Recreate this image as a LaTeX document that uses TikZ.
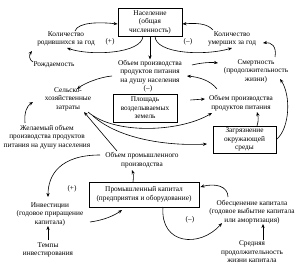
\documentclass[tikz,border=0pt]{standalone}
\usepackage{fontspec}
\setmainfont{Liberation Serif}
\usetikzlibrary{arrows.meta,calc}
\tikzset{
  lbl/.style={align=center,inner sep=0.5pt,font=\fontsize{7.3}{8.5}\selectfont},
  bx/.style={lbl,draw,line width=0.9pt},
  arr/.style={-{Stealth[length=4pt,width=3.2pt]},line width=0.6pt}
}
\begin{document}
\begin{tikzpicture}[x=1pt,y=-1pt]
\useasboundingbox[fill=white] (0,0) rectangle (300,267);
% nodes
\node[bx,minimum width=64pt,minimum height=28pt] (pop) at (150,22) {Население\\(общая\\численность)};
\node[lbl] (births) at (66,39) {Количество\\родившихся за год};
\node[lbl] (plus1) at (110,42) {(+)};
\node[lbl] (brate) at (54,65) {Рождаемость};
\node[lbl] (deaths) at (232,39) {Количество\\умерших за год};
\node[lbl] (minus1) at (188,42) {(–)};
\node[lbl] (mort) at (256,71) {Смертность\\(продолжительность\\жизни)};
\node[lbl] (foodpc) at (150,72) {Объем производства\\продуктов питания\\на душу населения};
\node[lbl] (minus2) at (148,89) {(–)};
\node[lbl] (agr) at (68,99) {Сельско-\\хозяйственные\\затраты};
\node[bx,minimum width=64pt,minimum height=28pt] (land) at (145,108) {Площадь\\возделываемых\\земель};
\node[lbl] (food) at (241,103) {Объем производства\\продуктов питания};
\node[bx,minimum width=63pt,minimum height=27pt] (poll) at (244.5,139.5) {Загрязнение\\окружающей\\среды};
\node[lbl] (desired) at (47,137) {Желаемый объем\\производства продуктов\\питания на душу населения};
\node[lbl] (indout) at (142,160) {Объем промышленного\\производства};
\node[bx,minimum width=110pt,minimum height=25pt] (cap) at (144,194.5) {Промышленный капитал\\(предприятия и оборудование)};
\node[lbl] (plus2) at (72,189) {(+)};
\node[lbl] (inv) at (50,214) {Инвестиции\\(годовое приращение\\капитала)};
\node[lbl] (rate) at (48,250) {Темпы\\инвестирования};
\node[lbl] (dep) at (252,212) {Обесценение капитала\\(годовое выбытие капитала\\или амортизация)};
\node[lbl] (minus3) at (190,220) {(–)};
\node[lbl] (life) at (252,252) {Средняя\\продолжительность\\жизни капитала};
% connectors
\draw[arr] ($(births)+(9,-8)$) .. controls (78,22) and (100,22) .. ($(pop.west)+(0,2)$);
\draw[arr] ($(pop)+(-7,14)$) .. controls (142,54) and (90,56) .. ($(births)+(1,9)$);
\draw[arr] ($(brate)+(-21,-3)$) .. controls (29,60) and (29,55) .. ($(births)+(-34,12)$);
\draw[arr] (pop.south) -- (foodpc.north);
\draw[arr] ($(pop)+(5,14)$) .. controls (155,54) and (205,56) .. ($(deaths)+(0,9)$);
\draw[arr] ($(deaths)+(-19,-9)$) .. controls (207,23) and (195,23) .. ($(pop.east)+(0,2)$);
\draw[arr] ($(mort)+(19,-14)$) .. controls (277,46) and (271,42) .. ($(deaths)+(31,4)$);
\draw[arr] ($(foodpc)+(42,-7)$) .. controls (200,63) and (210,62) .. ($(mort)+(-38,-8)$);
\draw[arr] ($(foodpc)+(-38,4)$) .. controls (100,77) and (85,83) .. ($(agr)+(9,-10)$);
\draw[arr] ($(desired)+(-22,-14)$) .. controls (24,112) and (27,106) .. ($(agr)+(-35,3)$);
\draw[arr] ($(land.east)+(13,-8)$) -- ($(food)+(-36,-4)$);
\draw[arr] ($(food)+(-24,-14)$) .. controls (210,80) and (198,77) .. ($(foodpc)+(37,4)$);
\draw[arr] ($(poll)+(12.5,-13.5)$) .. controls (259,120) and (258,116) .. ($(food)+(16,9)$);
\draw[arr] (poll.east) .. controls (290,128) and (291,95) .. ($(mort)+(24,8)$);
\draw[arr] ($(agr)+(20,13)$) .. controls (115,135) and (180,132) .. ($(food)+(-29,10)$);
\draw[arr] ($(agr)+(25,17)$) .. controls (120,140) and (170,146) .. ($(poll)+(-37.5,4.5)$);
\draw[arr] ($(indout)+(-25,-9)$) -- ($(agr)+(16,13)$);
\draw[arr] ($(cap)+(-11,-12.5)$) .. controls (134,176) and (133,173) .. ($(indout)+(-10,10)$);
\draw[arr] ($(indout)+(-42,-5)$) .. controls (60,155) and (48,175) .. ($(inv)+(-2,-17)$);
\draw[arr] ($(inv)+(40,8)$) .. controls (105,220) and (115,215) .. ($(cap)+(-22,15.5)$);
\draw[arr] ($(rate)+(0,-10)$) -- ($(inv)+(-2,12)$);
\draw[arr] ($(cap)+(19,12.5)$) .. controls (160,245) and (200,248) .. ($(dep)+(-30,11)$);
\draw[arr] ($(dep)+(-24,-15)$) .. controls (228,186) and (215,183) .. ($(cap.east)+(1,-7.5)$);
\draw[arr] ($(life)+(11,-12)$) -- ($(dep)+(11,12)$);
\end{tikzpicture}
\end{document}
